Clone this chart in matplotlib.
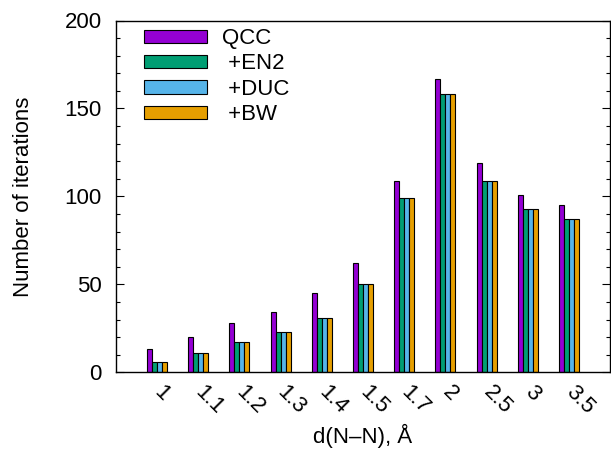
import matplotlib
matplotlib.use("Agg")
import matplotlib.pyplot as plt
import numpy as np
from matplotlib.ticker import MultipleLocator

categories = ["1", "1.1", "1.2", "1.3", "1.4", "1.5", "1.7", "2", "2.5", "3", "3.5"]
qcc = [13, 20, 28, 34, 45, 62, 109, 167, 119, 101, 95]
en2 = [6, 11, 17, 23, 31, 50, 99, 158, 109, 93, 87]
duc = [6, 11, 17, 23, 31, 50, 99, 158, 109, 93, 87]
bw = [6, 11, 17, 23, 31, 50, 99, 158, 109, 93, 87]
series_names = ["QCC", " +EN2", " +DUC", " +BW"]
colors = ["#9400D3", "#009E73", "#56B4E9", "#E69F00"]

plt.rcParams['font.family'] = ['Liberation Sans', 'DejaVu Sans']
FS = 16
FPX = FS * 100 / 72

fig = plt.figure(figsize=(6.11, 4.5), dpi=100)
ax = fig.add_axes([115.7/611, 1-372.3/450, (610.3-115.7)/611, (372.3-20.5)/450])

x = np.arange(len(categories))
w = 0.121
for k, (vals, name, c) in enumerate(zip([qcc, en2, duc, bw], series_names, colors)):
    ax.bar(x + (k - 1.5) * w, vals, width=w, color=c, edgecolor="black",
           linewidth=0.8, label=name)

ax.set_xlim(-1, 11)
ax.set_ylim(0, 200)
ax.yaxis.set_major_locator(MultipleLocator(50))
ax.yaxis.set_minor_locator(MultipleLocator(10))
ax.tick_params(axis='y', which='major', direction='in', length=5.8, width=0.8,
               right=True, labelsize=FS, pad=10)
ax.tick_params(axis='y', which='minor', direction='in', length=2.9, width=0.8, right=True)
ax.set_xticks(x)
ax.set_xticklabels(categories, rotation=-45, ha='left', va='center',
                   rotation_mode='anchor', fontsize=FS)
ax.tick_params(axis='x', length=0, pad=12)
for s in ax.spines.values():
    s.set_linewidth(1.0)

ax.set_xlabel("d(N\u2013N), \u00c5", fontsize=FS, labelpad=4)
ax.set_ylabel("Number of iterations", fontsize=FS, labelpad=22)

leg = ax.legend(loc='upper left', bbox_to_anchor=(144/611, 1-28/450),
                bbox_transform=fig.transFigure, frameon=False, fontsize=FS,
                handlelength=63/FPX, handleheight=12/FPX, handletextpad=15/FPX,
                labelspacing=0.2, borderpad=0, borderaxespad=0)

fig.savefig("out.png", dpi=100)
